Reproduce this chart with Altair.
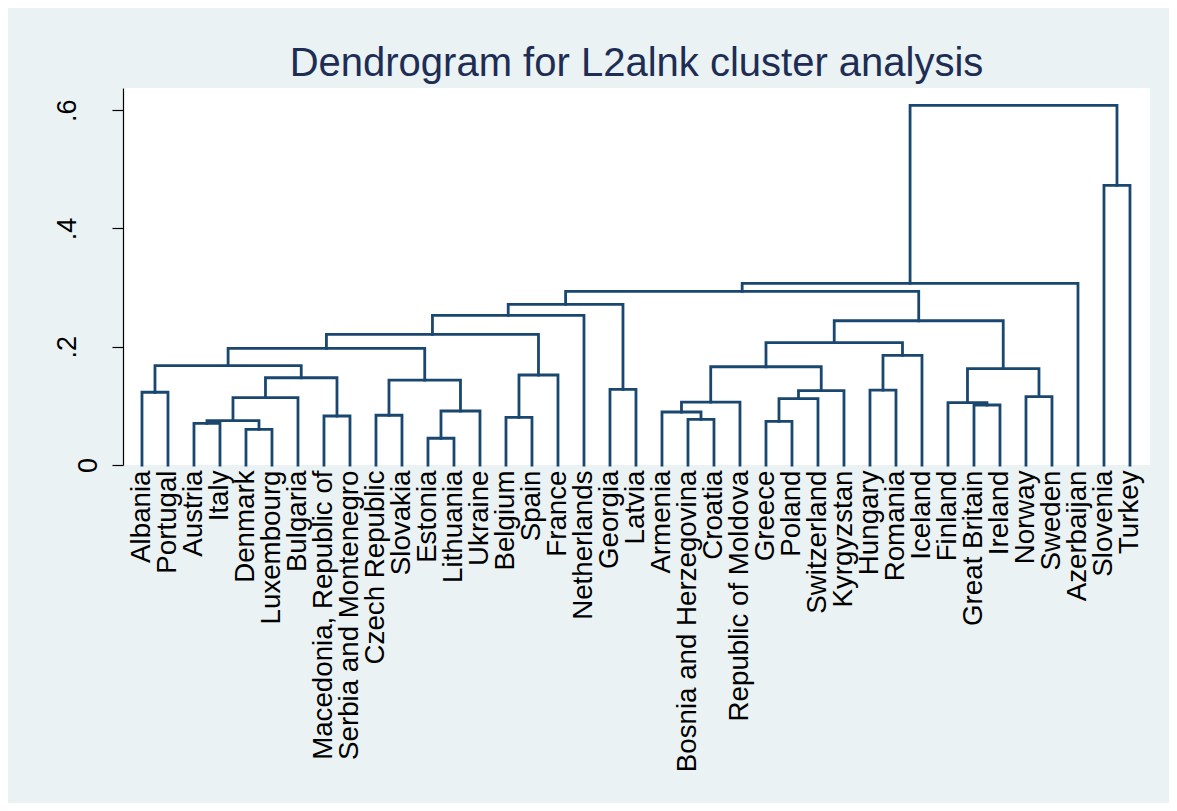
import json
import altair as alt
import pandas as pd

# ---- data -------------------------------------------------------------
leaves = [
    "Albania", "Portugal", "Austria", "Italy", "Denmark", "Luxembourg",
    "Bulgaria", "Macedonia, Republic of", "Serbia and Montenegro",
    "Czech Republic", "Slovakia", "Estonia", "Lithuania", "Ukraine",
    "Belgium", "Spain", "France", "Netherlands", "Georgia", "Latvia",
    "Armenia", "Bosnia and Herzegovina", "Croatia", "Republic of Moldova",
    "Greece", "Poland", "Switzerland", "Kyrgyzstan", "Hungary", "Romania",
    "Iceland", "Finland", "Great Britain", "Ireland", "Norway", "Sweden",
    "Azerbaijan", "Slovenia", "Turkey",
]
n_leaves = len(leaves)

# merges: node ids 0..38 are leaves, merge k creates node 39 + k
merge_a = [0, 2, 4, 40, 42, 7, 43, 39, 9, 11, 48, 47, 46, 14, 52, 51, 54, 18, 55,
           21, 20, 59, 24, 61, 62, 60, 28, 65, 64, 32, 31, 34, 69, 67, 57, 73, 37, 74]
merge_b = [1, 3, 5, 41, 6, 8, 44, 45, 10, 12, 13, 49, 50, 15, 16, 53, 17, 19, 56,
           22, 58, 23, 25, 26, 27, 63, 29, 30, 66, 33, 68, 35, 70, 71, 72, 36, 38, 75]
merge_h = [0.123, 0.0705, 0.0604, 0.0749, 0.1138, 0.0829, 0.1476, 0.1679,
           0.0841, 0.0452, 0.0913, 0.1437, 0.1974, 0.0807, 0.1522, 0.2210,
           0.2532, 0.128, 0.2718, 0.0773, 0.0896, 0.1065, 0.0739, 0.1121,
           0.1257, 0.1662, 0.1268, 0.1855, 0.2068, 0.1015, 0.1054, 0.1155,
           0.1629, 0.2440, 0.2938, 0.3073, 0.473, 0.6083]

y_ticks = [0, 0.2, 0.4, 0.6]
y_tick_labels = ["0", ".2", ".4", ".6"]

# ---- dendrogram layout (leaf order positions, merge at child midpoints) --
node_x = {i: i + 1 for i in range(n_leaves)}
node_h = {i: 0.0 for i in range(n_leaves)}
rows = []
for k, (a, b, h) in enumerate(zip(merge_a, merge_b, merge_h)):
    nid = n_leaves + k
    pts = [(node_x[a], node_h[a]), (node_x[a], h), (node_x[b], h), (node_x[b], node_h[b])]
    for o, (px, py) in enumerate(pts):
        rows.append({"id": k, "ord": o, "x": px, "h": py})
    node_x[nid] = (node_x[a] + node_x[b]) / 2
    node_h[nid] = h
df = pd.DataFrame(rows)

FONT = "Liberation Sans"

x_axis = alt.Axis(
    values=list(range(1, n_leaves + 1)),
    labelExpr=json.dumps(leaves) + "[datum.value - 1]",
    labelAngle=270,
    labelFontSize=27.7,
    labelFont=FONT,
    labelColor="black",
    labelPadding=5,
    labelOverlap=False,
    labelLimit=0,
    ticks=False,
    domain=False,
    grid=False,
    title=None,
)

y_axis = alt.Axis(
    values=y_ticks,
    labelExpr=str(y_tick_labels) + "[indexof(" + str(y_ticks) + ", datum.value)]",
    labelAngle=270,
    labelAlign="center",
    labelBaseline={"condition": {"test": "datum.value == 0", "value": "top"},
                   "value": "alphabetic"},
    labelFontSize=27,
    labelFont=FONT,
    labelColor="black",
    labelPadding=37,
    tickSize=11,
    tickColor="black",
    tickWidth=1.2,
    domainColor="black",
    domainWidth=1.2,
    grid=False,
    title=None,
)

chart = (
    alt.Chart(df)
    .mark_line(color="#1a476f", strokeWidth=2.8, strokeJoin="miter", strokeCap="square")
    .encode(
        x=alt.X("x:Q", scale=alt.Scale(domain=[0.27, 39.77], nice=False, zero=False), axis=x_axis),
        y=alt.Y("h:Q", scale=alt.Scale(domain=[0, 0.6376], nice=False), axis=y_axis),
        detail="id:N",
        order="ord:Q",
    )
    .properties(
        width=1027,
        height=377,
        title=alt.TitleParams(
            "Dendrogram for L2alnk cluster analysis",
            fontSize=40,
            font=FONT,
            fontWeight="normal",
            color="#1e2d54",
            anchor="middle",
            frame="group",
            offset=4,
        ),
        autosize=alt.AutoSizeParams(type="none"),
        padding={"left": 115, "top": 80, "right": 19, "bottom": 338},
        background="#eaf2f3",
    )
    .configure_view(fill="white", stroke=None)
)

chart.save("out.html", embed_options={"renderer": "svg", "actions": False})
